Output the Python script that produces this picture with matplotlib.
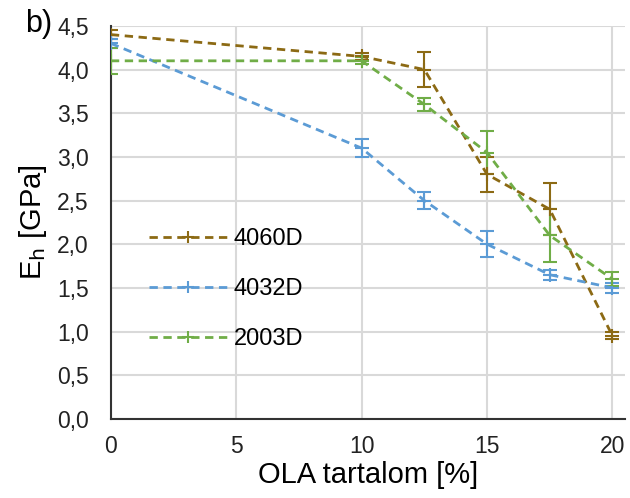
import matplotlib
matplotlib.use("Agg")
import matplotlib.pyplot as plt
from matplotlib.lines import Line2D

plt.rcParams['font.family'] = ['Liberation Sans', 'DejaVu Sans']

x = [0, 10, 12.5, 15, 17.5, 20]
s4060 = [4.40, 4.15, 4.00, 2.80, 2.40, 0.95]
e4060 = [0.05, 0.04, 0.20, 0.20, 0.30, 0.04]
s4032 = [4.30, 3.10, 2.50, 2.00, 1.65, 1.50]
e4032 = [0.05, 0.10, 0.10, 0.15, 0.06, 0.06]
s2003 = [4.10, 4.10, 3.60, 3.05, 2.10, 1.60]
e2003 = [0.15, 0.04, 0.07, 0.25, 0.30, 0.08]
names = ['4060D', '4032D', '2003D']
colors = ['#8C6A14', '#5B9BD5', '#70AD47']
xticks = [0, 5, 10, 15, 20]
yticks = [0, 0.5, 1.0, 1.5, 2.0, 2.5, 3.0, 3.5, 4.0, 4.5]

fig = plt.figure(figsize=(6.3, 4.98), dpi=100)
ax = fig.add_axes([0.176, 0.159, 0.816, 0.789])

dash = (0, (3, 2))
handles = []
for ys, es, name, c in zip([s4060, s4032, s2003], [e4060, e4032, e2003], names, colors):
    ax.errorbar(x, ys, yerr=es, color=c, ls=dash, lw=2, marker='+', ms=10,
                mew=1.5, capsize=5, elinewidth=1.5, capthick=1.5, zorder=3)
    handles.append(Line2D([], [], color=c, ls=dash, lw=2, marker='+', ms=9,
                          mew=1.5, label=name))

ax.set_xlim(0, 20.5)
ax.set_ylim(0, 4.5)
ax.set_xticks(xticks)
ax.set_yticks(yticks)
ax.set_yticklabels([f"{v:.1f}".replace('.', ',') for v in yticks])
ax.grid(True, color='#D9D9D9', lw=1.5, zorder=0)
ax.set_axisbelow(True)
for s in ['top', 'right']:
    ax.spines[s].set_visible(False)
for s in ['left', 'bottom']:
    ax.spines[s].set_color('#333333')
    ax.spines[s].set_linewidth(1.5)
ax.tick_params(length=0, labelsize=16.5, colors='#222222')
ax.tick_params(axis='x', pad=12)
ax.tick_params(axis='y', pad=16)
ax.set_xlabel('OLA tartalom [%]', fontsize=21, labelpad=2)
ax.set_ylabel('E$_\\mathrm{h}$ [GPa]', fontsize=21, labelpad=6)
fig.text(0.04, 0.935, 'b)', fontsize=22)

ax.legend(handles=handles, loc='center left', bbox_to_anchor=(0.074, 0.33), frameon=False,
          fontsize=17, handlelength=3.3, labelspacing=1.2, handletextpad=0.3,
          borderpad=0, borderaxespad=0)

fig.savefig('out.png', dpi=100)
